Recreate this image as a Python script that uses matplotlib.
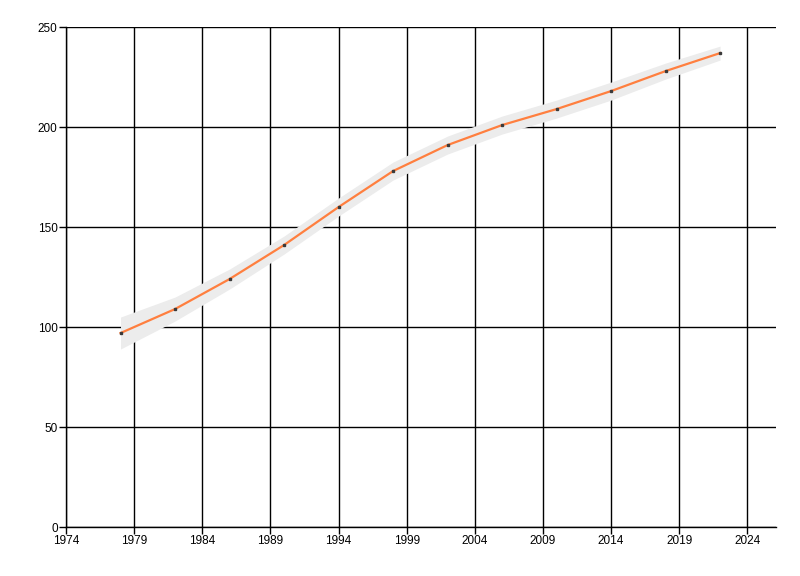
import matplotlib
matplotlib.use("Agg")
import matplotlib.pyplot as plt

years = [1978, 1982, 1986, 1990, 1994, 1998, 2002, 2006, 2010, 2014, 2018, 2022]
values = [97, 109, 124, 141, 160, 178, 191, 201, 209, 218, 228, 237]
band_halfwidth = [8, 6, 5, 4.5, 4.5, 4.5, 4.5, 4.5, 4.5, 4.5, 4, 3.5]
x_ticks = [1974, 1979, 1984, 1989, 1994, 1999, 2004, 2009, 2014, 2019, 2024]
y_ticks = [0, 50, 100, 150, 200, 250]

lower = [v - h for v, h in zip(values, band_halfwidth)]
upper = [v + h for v, h in zip(values, band_halfwidth)]

plt.rcParams['font.family'] = ['Liberation Sans', 'DejaVu Sans']
fig = plt.figure(figsize=(8, 5.76), dpi=100)
ax = fig.add_axes([0.0825, 0.085, 0.8875, 0.868])

ax.set_xlim(1974, 2026.1)
ax.set_ylim(0, 250)
ax.set_xticks(x_ticks)
ax.set_yticks(y_ticks)
ax.grid(True, color='black', linewidth=1.0, zorder=0)
ax.set_axisbelow(True)

ax.fill_between(years, lower, upper, color='#ececec', linewidth=0, zorder=2)
ax.plot(years, values, color='#ff7f3f', linewidth=1.6, zorder=3)
ax.plot(years, values, linestyle='none', marker='s', markersize=2,
        color='#3a3a3a', zorder=4)

for s in ['top', 'right']:
    ax.spines[s].set_visible(False)
for s in ['left', 'bottom']:
    ax.spines[s].set_linewidth(1.0)
ax.tick_params(axis='both', labelsize=8.5, length=5, width=1.0, direction='out', pad=1)

fig.savefig('out.png', dpi=100)
